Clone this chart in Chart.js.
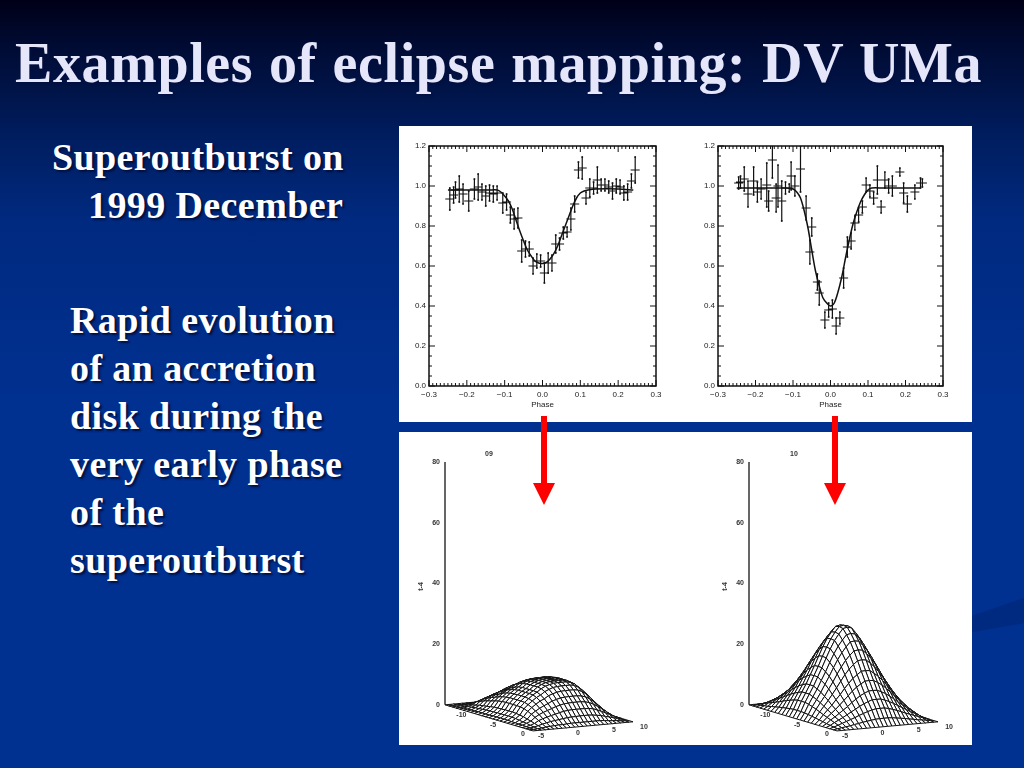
<!DOCTYPE html>
<html>
<head>
<meta charset="utf-8">
<script src="https://cdn.jsdelivr.net/npm/chart.js@4"></script>
<style>
html, body { margin: 0; padding: 0; }
#slide { position: relative; width: 1024px; height: 768px; overflow: hidden;
    background: linear-gradient(180deg, #000018 0px, #000a30 40px, #001c5c 130px, #002a80 220px, #003090 400px, #003090 768px); }
.txt { position: absolute; white-space: nowrap; font-family: "Liberation Serif", serif; font-weight: bold; color: #fff; text-shadow: 2px 2px 2px #001040; font-size: 38px; letter-spacing: 0.4px; }
#title { left: 15px; top: 31px; font-size: 56px; color: #e6e6fa; letter-spacing: 0.6px; word-spacing: 1.2px; }
.panel { position: absolute; left: 399px; width: 573px; background: #fff; }
.chart { position: absolute; }
.arrow { position: absolute; top: 416px; width: 22px; height: 89px; }
#swoosh { position: absolute; left: 972px; top: 590px; width: 52px; height: 50px; }
</style>
</head>
<body>
<div id="slide">
    <svg id="swoosh" viewBox="0 0 52 50"><polygon points="0,26 52,8 52,33 0,42" fill="#002a80"/></svg>
    <div class="txt" id="title">Examples of eclipse mapping: DV UMa</div>
    <div class="txt" style="left:52px;top:135px">Superoutburst on</div>
    <div class="txt" style="left:88px;top:183px">1999 December</div>
    <div class="txt" style="left:70px;top:298px">Rapid evolution</div>
    <div class="txt" style="left:70px;top:346px">of an accretion</div>
    <div class="txt" style="left:70px;top:394px">disk during the</div>
    <div class="txt" style="left:70px;top:442px">very early phase</div>
    <div class="txt" style="left:70px;top:490px">of the</div>
    <div class="txt" style="left:70px;top:538px">superoutburst</div>

    <div class="panel" style="top:126px;height:296px"></div>
    <div class="panel" style="top:432px;height:313px"></div>

    <div class="chart" style="left:399px;top:126px;width:287px;height:296px"><canvas id="lightLeft"></canvas></div>
    <div class="chart" style="left:686px;top:126px;width:286px;height:296px"><canvas id="lightRight"></canvas></div>
    <div class="chart" style="left:399px;top:432px;width:287px;height:313px"><canvas id="mapLeft"></canvas></div>
    <div class="chart" style="left:686px;top:432px;width:286px;height:313px"><canvas id="mapRight"></canvas></div>

    <svg class="arrow" style="left:533px" viewBox="0 0 22 89"><polygon points="8,0 14,0 14,67 22,67 11,89 0,67 8,67" fill="#f00"/></svg>
    <svg class="arrow" style="left:824px" viewBox="0 0 22 89"><polygon points="8,0 14,0 14,67 22,67 11,89 0,67 8,67" fill="#f00"/></svg>
</div>

<script>
// --- Light curves ---
const xHalfBar = 0.012;

const leftPhase = [-0.245,-0.235,-0.23,-0.22,-0.21,-0.195,-0.18,-0.17,-0.16,-0.15,-0.14,-0.13,-0.12,-0.105,-0.095,-0.085,-0.075,-0.065,-0.055,-0.045,-0.035,-0.025,-0.015,-0.005,0.005,0.015,0.025,0.035,0.045,0.055,0.065,0.075,0.085,0.095,0.105,0.115,0.125,0.135,0.145,0.155,0.165,0.175,0.185,0.195,0.205,0.215,0.225,0.235,0.245];
const leftFlux = [0.935,0.955,0.98,0.985,0.96,0.925,0.985,0.995,0.97,0.95,0.965,0.96,0.965,0.915,0.92,0.855,0.835,0.84,0.675,0.685,0.685,0.6,0.625,0.625,0.565,0.615,0.615,0.71,0.71,0.765,0.77,0.835,0.91,1.08,1.09,0.94,0.99,0.99,1.03,1.005,1.005,0.995,0.975,1.0,0.995,0.965,0.97,1.025,1.08];
const leftErr = [0.055,0.04,0.04,0.065,0.05,0.05,0.05,0.065,0.04,0.05,0.04,0.04,0.035,0.05,0.04,0.04,0.05,0.05,0.055,0.04,0.035,0.04,0.035,0.03,0.05,0.05,0.04,0.045,0.03,0.03,0.025,0.055,0.04,0.04,0.055,0.03,0.045,0.03,0.065,0.03,0.03,0.03,0.04,0.035,0.035,0.035,0.04,0.035,0.065];
const leftFitPhase = [-0.25,-0.2,-0.14,-0.12,-0.11,-0.1,-0.09,-0.08,-0.07,-0.06,-0.05,-0.04,-0.03,-0.02,-0.01,0,0.01,0.02,0.03,0.04,0.05,0.06,0.07,0.08,0.09,0.1,0.11,0.12,0.14,0.2,0.24];
const leftFitFlux = [0.98,0.98,0.98,0.98,0.97,0.95,0.925,0.885,0.83,0.775,0.725,0.68,0.65,0.625,0.615,0.612,0.618,0.635,0.662,0.70,0.75,0.80,0.85,0.90,0.94,0.965,0.975,0.98,0.985,0.985,0.98];

const rightPhase = [-0.245,-0.24,-0.23,-0.22,-0.205,-0.195,-0.185,-0.17,-0.165,-0.155,-0.145,-0.14,-0.13,-0.12,-0.11,-0.105,-0.095,-0.08,-0.065,-0.05,-0.055,-0.035,-0.03,-0.015,-0.005,0.005,0.015,0.025,0.035,0.045,0.055,0.065,0.075,0.085,0.095,0.105,0.115,0.125,0.135,0.145,0.155,0.165,0.185,0.195,0.205,0.225,0.24,0.245];
const rightFlux = [1.015,1.02,1.035,0.96,1.025,0.97,0.985,1.005,0.925,1.13,0.94,1.0,0.925,0.99,0.99,1.05,1.0,1.085,0.89,0.795,0.67,0.52,0.465,0.33,0.38,0.385,0.30,0.34,0.54,0.695,0.725,0.815,0.855,0.895,1.005,0.975,0.94,1.03,0.895,1.03,1.0,1.0,1.07,0.965,0.91,0.97,1.015,1.015];
const rightErr = [0.03,0.03,0.06,0.065,0.07,0.05,0.05,0.11,0.05,0.09,0.07,0.105,0.1,0.03,0.02,0.07,0.05,0.115,0.06,0.045,0.06,0.04,0.06,0.04,0.035,0.045,0.04,0.03,0.05,0.05,0.04,0.035,0.035,0.03,0.035,0.03,0.03,0.07,0.03,0.04,0.035,0.05,0.02,0.05,0.04,0.035,0.025,0.02];
const rightFitPhase = [-0.25,-0.2,-0.12,-0.1,-0.09,-0.08,-0.07,-0.06,-0.05,-0.04,-0.03,-0.02,-0.01,0,0.01,0.02,0.03,0.04,0.05,0.06,0.07,0.08,0.09,0.1,0.11,0.14,0.24];
const rightFitFlux = [0.99,0.99,0.99,0.985,0.97,0.94,0.875,0.79,0.68,0.575,0.5,0.44,0.415,0.40,0.415,0.47,0.545,0.64,0.73,0.81,0.87,0.92,0.955,0.98,0.99,0.99,0.99];

const phaseLabels = [-0.3,-0.2,-0.1,0,0.1,0.2,0.3];
const fluxLabels = [0,0.2,0.4,0.6,0.8,1.0,1.2];

// --- Disk maps: brightness at each grid node, estimated from the outline in the picture ---
const gridStops = [0,0.042,0.083,0.125,0.167,0.208,0.25,0.292,0.333,0.375,0.417,0.458,0.5,0.542,0.583,0.625,0.667,0.708,0.75,0.792,0.833,0.875,0.917,0.958,1];

const mapLeftHeights = [
    [0,0,0,0,0,0,0,0,0,0,0,0,0,0,0,0,0,0,0,0,0,0,0,0,0],
    [0,0,0.1,0.1,0.2,0.2,0.3,0.3,0.4,0.4,0.4,0.4,0.5,0.5,0.5,0.5,0.5,0.4,0.4,0.3,0.2,0.2,0.1,0,0],
    [0,0.1,0.2,0.3,0.6,0.7,0.9,1.0,1.1,1.2,1.3,1.3,1.4,1.4,1.4,1.4,1.4,1.3,1.1,0.9,0.8,0.5,0.3,0.1,0],
    [0,0.1,0.3,0.6,1.0,1.3,1.6,1.8,2.0,2.2,2.4,2.5,2.5,2.6,2.6,2.6,2.5,2.3,2.1,1.7,1.4,1.0,0.6,0.2,0],
    [0,0.2,0.6,1.0,1.9,2.4,2.9,3.3,3.6,4.0,4.3,4.5,4.6,4.6,4.6,4.6,4.5,4.3,3.8,3.2,2.5,1.8,1.0,0.4,0],
    [0,0.2,0.7,1.3,2.4,3.1,3.7,4.3,4.7,5.2,5.6,5.8,6.0,6.0,6.0,6.0,5.9,5.5,4.9,4.1,3.3,2.3,1.3,0.5,0],
    [0,0.3,0.9,1.6,2.9,3.7,4.5,5.1,5.6,6.3,6.7,7.0,7.1,7.2,7.2,7.2,7.0,6.6,5.9,4.9,3.9,2.7,1.6,0.6,0],
    [0,0.3,1.0,1.8,3.3,4.3,5.1,5.9,6.4,7.2,7.7,8.0,8.2,8.2,8.2,8.2,8.1,7.6,6.8,5.6,4.4,3.1,1.8,0.7,0],
    [0,0.4,1.1,2.0,3.6,4.7,5.6,6.4,7.1,7.9,8.4,8.8,9.0,9.0,9.0,9.0,8.9,8.3,7.4,6.2,4.9,3.4,2.0,0.7,0],
    [0,0.4,1.2,2.2,4.0,5.2,6.3,7.2,7.9,8.8,9.4,9.8,10.0,10.1,10.1,10.1,9.9,9.3,8.3,6.9,5.4,3.8,2.2,0.8,0],
    [0,0.4,1.3,2.4,4.3,5.6,6.7,7.7,8.4,9.4,10.0,10.5,10.7,10.8,10.8,10.8,10.6,9.9,8.8,7.3,5.8,4.1,2.4,0.9,0],
    [0,0.4,1.3,2.5,4.5,5.8,7.0,8.0,8.8,9.8,10.5,10.9,11.1,11.3,11.3,11.3,11.0,10.4,9.2,7.7,6.1,4.3,2.5,0.9,0],
    [0,0.5,1.4,2.5,4.6,6.0,7.1,8.2,9.0,10.0,10.7,11.1,11.4,11.5,11.5,11.5,11.3,10.6,9.4,7.8,6.2,4.4,2.5,0.9,0],
    [0,0.5,1.4,2.6,4.6,6.0,7.2,8.2,9.0,10.1,10.8,11.3,11.5,11.6,11.6,11.6,11.4,10.7,9.5,7.9,6.3,4.4,2.6,0.9,0],
    [0,0.5,1.4,2.6,4.6,6.0,7.2,8.2,9.0,10.1,10.8,11.3,11.5,11.6,11.6,11.6,11.4,10.7,9.5,7.9,6.3,4.4,2.6,0.9,0],
    [0,0.5,1.4,2.6,4.6,6.0,7.2,8.2,9.0,10.1,10.8,11.3,11.5,11.6,11.6,11.6,11.4,10.7,9.5,7.9,6.3,4.4,2.6,0.9,0],
    [0,0.5,1.4,2.5,4.5,5.9,7.0,8.1,8.9,9.9,10.6,11.0,11.3,11.4,11.4,11.4,11.1,10.5,9.3,7.7,6.1,4.3,2.5,0.9,0],
    [0,0.4,1.3,2.3,4.3,5.5,6.6,7.6,8.3,9.3,9.9,10.4,10.6,10.7,10.7,10.7,10.5,9.8,8.7,7.3,5.8,4.1,2.3,0.9,0],
    [0,0.4,1.1,2.1,3.8,4.9,5.9,6.8,7.4,8.3,8.8,9.2,9.4,9.5,9.5,9.5,9.3,8.7,7.8,6.5,5.1,3.6,2.1,0.8,0],
    [0,0.3,0.9,1.7,3.2,4.1,4.9,5.6,6.2,6.9,7.3,7.7,7.8,7.9,7.9,7.9,7.7,7.3,6.5,5.4,4.3,3.0,1.7,0.6,0],
    [0,0.3,0.8,1.4,2.5,3.3,3.9,4.4,4.9,5.4,5.8,6.1,6.2,6.3,6.3,6.3,6.1,5.8,5.1,4.3,3.4,2.4,1.4,0.5,0],
    [0,0.2,0.5,1.0,1.8,2.3,2.7,3.1,3.4,3.8,4.1,4.3,4.4,4.4,4.4,4.4,4.3,4.1,3.6,3.0,2.4,1.7,1.0,0.4,0],
    [0,0.1,0.3,0.6,1.0,1.3,1.6,1.8,2.0,2.2,2.4,2.5,2.5,2.6,2.6,2.6,2.5,2.3,2.1,1.7,1.4,1.0,0.6,0.2,0],
    [0,0,0.1,0.2,0.4,0.5,0.6,0.7,0.7,0.8,0.9,0.9,0.9,0.9,0.9,0.9,0.9,0.9,0.8,0.6,0.5,0.4,0.2,0.1,0],
    [0,0,0,0,0,0,0,0,0,0,0,0,0,0,0,0,0,0,0,0,0,0,0,0,0]
];
const mapRightHeights = [
    [0,0,0,0,0,0,0,0,0,0,0,0,0,0,0,0,0,0,0,0,0,0,0,0,0],
    [0,0.2,0.4,0.6,0.8,1.1,1.3,1.6,1.8,2.0,2.2,2.3,2.3,2.3,2.2,2.0,1.8,1.6,1.3,1.1,0.8,0.6,0.4,0.2,0],
    [0,0.4,0.9,1.4,1.9,2.4,2.9,3.5,4.0,4.5,4.9,5.2,5.2,5.2,4.9,4.5,4.0,3.5,2.9,2.4,1.9,1.4,0.9,0.4,0],
    [0,0.6,1.4,2.1,2.8,3.6,4.4,5.2,6.0,6.7,7.3,7.8,7.8,7.8,7.3,6.7,6.0,5.2,4.4,3.6,2.8,2.1,1.4,0.6,0],
    [0,0.8,1.9,2.8,3.8,4.8,5.8,7.0,8.0,9.0,9.7,10.3,10.4,10.3,9.7,9.0,8.0,7.0,5.8,4.8,3.8,2.8,1.9,0.8,0],
    [0,1.1,2.4,3.6,4.8,6.1,7.5,8.9,10.3,11.5,12.4,13.2,13.3,13.2,12.4,11.5,10.3,8.9,7.5,6.1,4.8,3.6,2.4,1.1,0],
    [0,1.3,2.9,4.4,5.8,7.5,9.1,10.9,12.5,14.0,15.1,16.1,16.2,16.1,15.1,14.0,12.5,10.9,9.1,7.5,5.8,4.4,2.9,1.3,0],
    [0,1.6,3.5,5.2,7.0,8.9,10.9,13.0,15.0,16.7,18.1,19.2,19.4,19.2,18.1,16.7,15.0,13.0,10.9,8.9,7.0,5.2,3.5,1.6,0],
    [0,1.8,4.0,6.0,8.0,10.3,12.5,15.0,17.2,19.2,20.8,22.1,22.3,22.1,20.8,19.2,17.2,15.0,12.5,10.3,8.0,6.0,4.0,1.8,0],
    [0,2.0,4.5,6.7,9.0,11.5,14.0,16.7,19.2,21.4,23.2,24.7,24.9,24.7,23.2,21.4,19.2,16.7,14.0,11.5,9.0,6.7,4.5,2.0,0],
    [0,2.2,4.9,7.3,9.7,12.4,15.1,18.1,20.8,23.2,25.1,26.7,27.0,26.7,25.1,23.2,20.8,18.1,15.1,12.4,9.7,7.3,4.9,2.2,0],
    [0,2.3,5.2,7.8,10.3,13.2,16.1,19.2,22.1,24.7,26.7,28.4,28.7,28.4,26.7,24.7,22.1,19.2,16.1,13.2,10.3,7.8,5.2,2.3,0],
    [0,2.3,5.2,7.8,10.4,13.3,16.2,19.4,22.3,24.9,27.0,28.7,29,28.7,27.0,24.9,22.3,19.4,16.2,13.3,10.4,7.8,5.2,2.3,0],
    [0,2.3,5.2,7.8,10.3,13.2,16.1,19.2,22.1,24.7,26.7,28.4,28.7,28.4,26.7,24.7,22.1,19.2,16.1,13.2,10.3,7.8,5.2,2.3,0],
    [0,2.2,4.9,7.3,9.7,12.4,15.1,18.1,20.8,23.2,25.1,26.7,27.0,26.7,25.1,23.2,20.8,18.1,15.1,12.4,9.7,7.3,4.9,2.2,0],
    [0,2.0,4.5,6.7,9.0,11.5,14.0,16.7,19.2,21.4,23.2,24.7,24.9,24.7,23.2,21.4,19.2,16.7,14.0,11.5,9.0,6.7,4.5,2.0,0],
    [0,1.8,4.0,6.0,8.0,10.3,12.5,15.0,17.2,19.2,20.8,22.1,22.3,22.1,20.8,19.2,17.2,15.0,12.5,10.3,8.0,6.0,4.0,1.8,0],
    [0,1.6,3.5,5.2,7.0,8.9,10.9,13.0,15.0,16.7,18.1,19.2,19.4,19.2,18.1,16.7,15.0,13.0,10.9,8.9,7.0,5.2,3.5,1.6,0],
    [0,1.3,2.9,4.4,5.8,7.5,9.1,10.9,12.5,14.0,15.1,16.1,16.2,16.1,15.1,14.0,12.5,10.9,9.1,7.5,5.8,4.4,2.9,1.3,0],
    [0,1.1,2.4,3.6,4.8,6.1,7.5,8.9,10.3,11.5,12.4,13.2,13.3,13.2,12.4,11.5,10.3,8.9,7.5,6.1,4.8,3.6,2.4,1.1,0],
    [0,0.8,1.9,2.8,3.8,4.8,5.8,7.0,8.0,9.0,9.7,10.3,10.4,10.3,9.7,9.0,8.0,7.0,5.8,4.8,3.8,2.8,1.9,0.8,0],
    [0,0.6,1.4,2.1,2.8,3.6,4.4,5.2,6.0,6.7,7.3,7.8,7.8,7.8,7.3,6.7,6.0,5.2,4.4,3.6,2.8,2.1,1.4,0.6,0],
    [0,0.4,0.9,1.4,1.9,2.4,2.9,3.5,4.0,4.5,4.9,5.2,5.2,5.2,4.9,4.5,4.0,3.5,2.9,2.4,1.9,1.4,0.9,0.4,0],
    [0,0.2,0.4,0.6,0.8,1.1,1.3,1.6,1.8,2.0,2.2,2.3,2.3,2.3,2.2,2.0,1.8,1.6,1.3,1.1,0.8,0.6,0.4,0.2,0],
    [0,0,0,0,0,0,0,0,0,0,0,0,0,0,0,0,0,0,0,0,0,0,0,0,0]
];
const heightLabels = [0,20,40,60,80];
const groundLabels = ['-10','-5','0','5','10'];

Chart.defaults.font.family = '"Liberation Sans", sans-serif';
Chart.defaults.animation = false;
Chart.defaults.responsive = true;
Chart.defaults.maintainAspectRatio = false;

// IDL style inward ticks on all four sides of the box
const boxTicks = {
    id: 'boxTicks',
    afterDatasetsDraw(chart) {
        const { ctx, chartArea: a, scales: { x, y } } = chart;
        ctx.save();
        ctx.strokeStyle = '#111';
        ctx.lineWidth = 1;
        ctx.beginPath();
        x.ticks.forEach(t => {
            const px = x.getPixelForValue(t.value);
            const len = Math.abs(t.value * 10 - Math.round(t.value * 10)) < 1e-6 ? 6 : 3;
            ctx.moveTo(px, a.bottom); ctx.lineTo(px, a.bottom - len);
            ctx.moveTo(px, a.top); ctx.lineTo(px, a.top + len);
        });
        y.ticks.forEach(t => {
            const py = y.getPixelForValue(t.value);
            const len = Math.abs(t.value * 5 - Math.round(t.value * 5)) < 1e-6 ? 6 : 3;
            ctx.moveTo(a.left, py); ctx.lineTo(a.left + len, py);
            ctx.moveTo(a.right, py); ctx.lineTo(a.right - len, py);
        });
        ctx.stroke();
        ctx.lineWidth = 1.5;
        ctx.strokeRect(a.left, a.top, a.right - a.left, a.bottom - a.top);
        ctx.restore();
    }
};

function lightCurve(id, phase, flux, err, fitPhase, fitFlux, leftWidth, rightGap) {
    // error crosses go into one dataset with gaps between them
    const bars = [];
    const caps = [];
    phase.forEach((p, i) => {
        bars.push({ x: p - xHalfBar, y: flux[i] }, { x: p + xHalfBar, y: flux[i] }, { x: NaN, y: NaN });
        bars.push({ x: p, y: flux[i] - err[i] }, { x: p, y: flux[i] + err[i] }, { x: NaN, y: NaN });
        caps.push({ x: p, y: flux[i] - err[i] }, { x: p, y: flux[i] + err[i] });
    });
    new Chart(document.getElementById(id), {
        type: 'scatter',
        data: {
            datasets: [
                { data: fitPhase.map((p, i) => ({ x: p, y: fitFlux[i] })), showLine: true, borderColor: '#111', borderWidth: 1.5, pointRadius: 0, tension: 0.3 },
                { data: bars, showLine: true, spanGaps: false, borderColor: '#111', borderWidth: 1.2, pointRadius: 0 },
                { data: caps, showLine: false, pointStyle: 'rect', pointRadius: 1.2, backgroundColor: '#111', borderWidth: 0 }
            ]
        },
        options: {
            layout: { padding: { top: 20, right: rightGap, bottom: 12, left: 0 } },
            plugins: { legend: { display: false }, tooltip: { enabled: false } },
            scales: {
                x: {
                    type: 'linear', min: -0.3, max: 0.3,
                    border: { display: false },
                    grid: { display: false, drawTicks: false },
                    afterBuildTicks: s => {
                        s.ticks = [];
                        for (let k = -30; k <= 30; k++) s.ticks.push({ value: k / 100 });
                    },
                    ticks: {
                        autoSkip: false, maxRotation: 0, padding: 4, color: '#222', font: { size: 8 },
                        callback: v => {
                            const hit = phaseLabels.find(l => Math.abs(l - v) < 1e-6);
                            return hit === undefined ? '' : (hit < 0 ? '\u2212' : '') + Math.abs(hit).toFixed(1);
                        }
                    },
                    title: { display: true, text: 'Phase', color: '#222', font: { size: 8 }, padding: { top: 0, bottom: 0 } },
                    afterFit: s => { s.height = 24; }
                },
                y: {
                    min: 0, max: 1.2,
                    border: { display: false },
                    grid: { display: false, drawTicks: false },
                    afterBuildTicks: s => {
                        s.ticks = [];
                        for (let k = 0; k <= 24; k++) s.ticks.push({ value: k * 0.05 });
                    },
                    ticks: {
                        autoSkip: false, padding: 3, color: '#222', font: { size: 8 },
                        callback: v => {
                            const hit = fluxLabels.find(l => Math.abs(l - v) < 1e-6);
                            return hit === undefined ? '' : hit.toFixed(1);
                        }
                    },
                    afterFit: s => { s.width = leftWidth; }
                }
            }
        },
        plugins: [boxTicks]
    });
}

// small squashed labels around the ground plane, the t axis name and the frame number
function mapLabels(frameLabel, frameX, titleX, corners) {
    return {
        id: 'mapLabels',
        afterDatasetsDraw(chart) {
            const { ctx, scales: { x, y } } = chart;
            ctx.save();
            ctx.fillStyle = '#333';
            ctx.font = 'bold 7px "Liberation Sans", sans-serif';
            ctx.textAlign = 'center';
            ctx.textBaseline = 'middle';
            ctx.fillText(frameLabel, x.getPixelForValue(frameX), y.getPixelForValue(82.5));
            const edge = (a, b, f, dx, dy, text) => {
                ctx.fillText(text, x.getPixelForValue(a[0] + (b[0] - a[0]) * f) + dx, y.getPixelForValue(a[1] + (b[1] - a[1]) * f) + dy);
            };
            const [L, N, R] = corners;
            [0.22, 0.58, 0.92].forEach((f, i) => edge(L, N, f, -3, 5, groundLabels[i]));
            [0.05, 0.42, 0.78, 1.08].forEach((f, i) => edge(N, R, f, 3, 6, groundLabels[i + 1] || groundLabels[4]));
            ctx.translate(x.getPixelForValue(titleX), y.getPixelForValue(39));
            ctx.rotate(-Math.PI / 2);
            ctx.fillText('t-4', 0, 0);
            ctx.restore();
        }
    };
}

function diskMap(id, heights, corners, frameLabel, frameX, titleX, xMax, leftWidth) {
    const [L, N, R] = corners;
    const node = (i, j) => ({
        x: L[0] + gridStops[i] * (N[0] - L[0]) + gridStops[j] * (R[0] - N[0]),
        y: L[1] + gridStops[i] * (N[1] - L[1]) + gridStops[j] * (R[1] - N[1]) + heights[i][j]
    });
    // near cells first: Chart.js paints the first dataset last, so the hump hides what is behind it
    const cells = [];
    for (let i = gridStops.length - 2; i >= 0; i--) {
        for (let j = 0; j < gridStops.length - 1; j++) {
            cells.push({
                data: [node(i, j), node(i + 1, j), node(i + 1, j + 1), node(i, j + 1), node(i, j)],
                showLine: true, fill: 'shape', backgroundColor: '#fff',
                borderColor: '#111', borderWidth: 1, pointRadius: 0
            });
        }
    }
    cells.push({ data: [{ x: L[0], y: 0 }, { x: L[0], y: 80 }], showLine: true, borderColor: '#333', borderWidth: 1.5, pointRadius: 0, clip: false });
    new Chart(document.getElementById(id), {
        type: 'scatter',
        data: { datasets: cells },
        options: {
            layout: { padding: { top: 30, right: 0, bottom: 0, left: 0 } },
            plugins: { legend: { display: false }, tooltip: { enabled: false } },
            scales: {
                x: { type: 'linear', min: 0, max: xMax, display: false },
                y: {
                    min: -11.2, max: 80,
                    border: { display: false },
                    grid: { display: false, drawOnChartArea: false, drawTicks: true, tickLength: 3, color: '#333' },
                    afterBuildTicks: s => {
                        s.ticks = [];
                        for (let k = 0; k <= 16; k++) s.ticks.push({ value: k * 5 });
                    },
                    ticks: {
                        autoSkip: false, padding: 2, color: '#333', font: { size: 7, weight: 'bold' },
                        callback: v => heightLabels.includes(v) ? String(v) : ''
                    },
                    afterFit: s => { s.width = leftWidth; }
                }
            }
        },
        plugins: [mapLabels(frameLabel, frameX, titleX, corners)]
    });
}

lightCurve('lightLeft', leftPhase, leftFlux, leftErr, leftFitPhase, leftFitFlux, 30, 30);
lightCurve('lightRight', rightPhase, rightFlux, rightErr, rightFitPhase, rightFitFlux, 32, 29);

// ground plane corners (horizontal position, height axis units)
diskMap('mapLeft', mapLeftHeights, [[0, 0], [88, -8.6], [188, -5.6]], '09', 44, -24, 241, 46);
diskMap('mapRight', mapRightHeights, [[0, 0], [88, -8.6], [189, -5.6]], '10', 45, -24, 223, 63);
</script>
</body>
</html>
